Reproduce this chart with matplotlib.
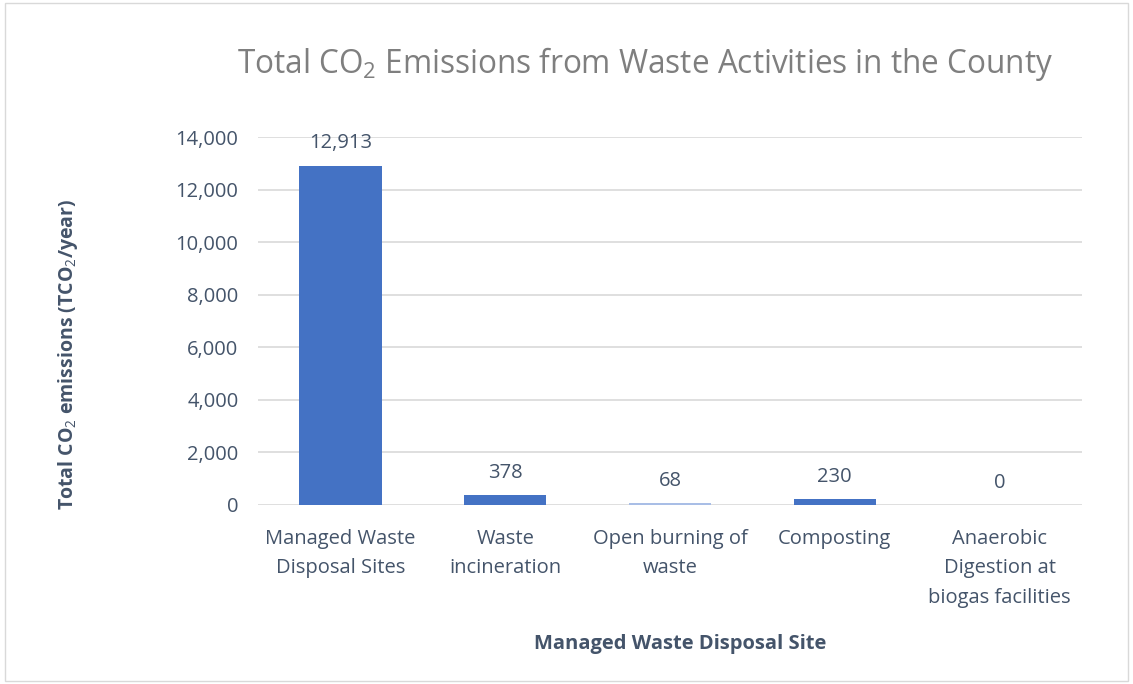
import matplotlib.pyplot as plt
from matplotlib.patches import Rectangle
import numpy as np

# Chart data
categories = ["Managed Waste\nDisposal Sites", "Waste\nincineration", "Open burning of\nwaste",
              "Composting", "Anaerobic\nDigestion at\nbiogas facilities"]
emissions = [12913, 378, 68, 230, 0]
bar_colors = ["#4472C4", "#4472C4", "#A9BEE6", "#4472C4", "#4472C4"]
y_ticks = [0, 2000, 4000, 6000, 8000, 10000, 12000, 14000]

plt.rcParams['font.family'] = ['Open Sans', 'DejaVu Sans']
plt.rcParams['mathtext.fontset'] = 'custom'
plt.rcParams['mathtext.rm'] = 'Open Sans'
plt.rcParams['mathtext.bf'] = 'Open Sans:bold'

text_color = "#44546A"

fig = plt.figure(figsize=(11.33, 6.84), dpi=100)
ax = fig.add_axes([0.2277, 0.2617, 0.7273, 0.538])

x = np.arange(len(categories))
bars = ax.bar(x, emissions, width=0.5, color=bar_colors, zorder=3)

# value labels above the bars
for xi, v in zip(x, emissions):
    ax.text(xi, v + 460, f"{v:,}", ha='center', va='bottom', fontsize=14.5, color=text_color)

ax.set_xlim(-0.5, len(categories) - 0.5)
ax.set_ylim(0, 14000)
ax.set_yticks(y_ticks)
ax.set_yticklabels([f"{t:,}" for t in y_ticks], fontsize=14.5, color=text_color)
ax.set_xticks(x)
ax.set_xticklabels(categories, fontsize=14.5, color=text_color, linespacing=1.65, va='top')
ax.tick_params(axis='both', length=0)
ax.tick_params(axis='y', pad=14)
ax.tick_params(axis='x', pad=17)

ax.grid(axis='y', color="#D9D9D9", linewidth=1.2, zorder=0)
for s in ax.spines.values():
    s.set_visible(False)

# axis titles
fig.text(0.060, 0.482, r"Total CO$_2$ emissions (TCO$_2$/year)", rotation=90,
         ha='center', va='center', fontsize=14, fontweight='bold', color=text_color)
fig.text(0.6, 0.059, "Managed Waste Disposal Site", ha='center', va='center',
         fontsize=14.5, fontweight='bold', color=text_color)

fig.text(0.569, 0.906, r"Total CO$_2$ Emissions from Waste Activities in the County",
         ha='center', va='center', fontsize=22.7, color="#7F7F7F")

# outer chart border
fig.patches.append(Rectangle((0.004, 0.004), 0.992, 0.992, transform=fig.transFigure,
                             fill=False, edgecolor="#D9D9D9", linewidth=1))

fig.savefig("out.png", dpi=100)
